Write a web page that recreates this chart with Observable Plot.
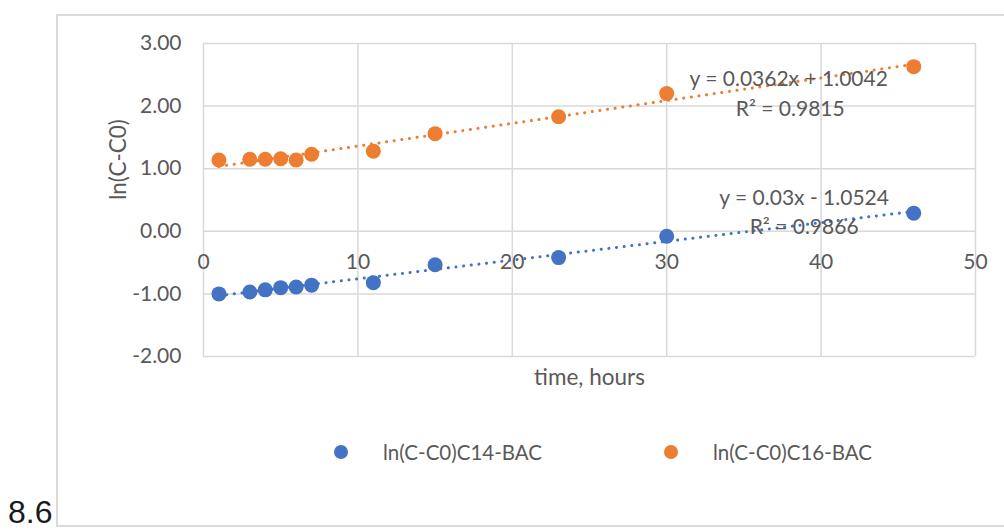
<!DOCTYPE html>
<html>
<head>
<meta charset="utf-8">
<script src="https://cdn.jsdelivr.net/npm/d3@7"></script>
<script src="https://cdn.jsdelivr.net/npm/@observablehq/plot@0.6"></script>
<style>
  html, body { margin: 0; padding: 0; background: #fff; }
  #wrap { position: relative; width: 1004px; height: 530px; overflow: hidden; font-family: Lato, "Open Sans", sans-serif; }
  #frame { position: absolute; left: 56px; top: 14px; width: 1000px; height: 513px; border: 2px solid #d9d9d9; box-sizing: border-box; }
  #chart { position: absolute; left: 0; top: 0; }
  .leg { position: absolute; top: 440px; height: 24px; display: flex; align-items: center; font-size: 20.5px; color: #595959; }
  .sw { width: 14px; height: 14px; border-radius: 50%; margin-right: 35px; }
  #num { position: absolute; left: 8px; top: 496px; font-family: "Liberation Sans", Arial, sans-serif; font-size: 32px; color: #1a1a1a; line-height: 1; }
</style>
</head>
<body>
<div id="wrap">
  <div id="frame"></div>
  <div id="chart"></div>
  <div class="leg" style="left:334px"><div class="sw" style="background:#4472C4"></div><span>ln(C-C0)C14-BAC</span></div>
  <div class="leg" style="left:664px"><div class="sw" style="background:#ED7D31"></div><span>ln(C-C0)C16-BAC</span></div>
  <div id="num">8.6</div>
</div>
<script>
// time, hours
const hours = [1, 3, 4, 5, 6, 7, 11, 15, 23, 30, 46];
// ln(C-C0) for C14-BAC
const c14 = [-1.00, -0.97, -0.935, -0.90, -0.89, -0.86, -0.82, -0.535, -0.42, -0.08, 0.29];
// ln(C-C0) for C16-BAC
const c16 = [1.14, 1.15, 1.15, 1.16, 1.14, 1.23, 1.28, 1.56, 1.83, 2.20, 2.63];
const seriesNames = ["ln(C-C0)C14-BAC", "ln(C-C0)C16-BAC"];
const seriesColors = ["#4472C4", "#ED7D31"];
const xTicks = [0, 10, 20, 30, 40, 50];
const yTicks = [-2, -1, 0, 1, 2, 3];
// trendline labels (as shown)
const eqLabels = ["y = 0.0362x + 1.0042", "R² = 0.9815", "y = 0.03x - 1.0524", "R² = 0.9866"];
const eqX = [37.9, 38.0, 38.9, 38.9];
const eqY = [2.425, 1.945, 0.525, 0.06];

const rows = [];
hours.forEach((h, i) => {
  rows.push({series: seriesNames[0], x: h, y: c14[i]});
  rows.push({series: seriesNames[1], x: h, y: c16[i]});
});
const labels = eqLabels.map((t, i) => ({t, x: eqX[i], y: eqY[i]}));

const textColor = "#595959";
const grid = "#d9d9d9";

const chart = Plot.plot({
  width: 1004,
  height: 420,
  marginLeft: 203,
  marginRight: 29,
  marginTop: 43,
  marginBottom: 64,
  style: {fontFamily: "Lato, 'Open Sans', sans-serif", fontSize: "21px", color: textColor, background: "transparent"},
  x: {domain: [0, 50], ticks: xTicks, axis: null},
  y: {domain: [-2, 3], ticks: yTicks, axis: null},
  color: {domain: seriesNames, range: seriesColors},
  marks: [
    Plot.ruleY(yTicks, {y: d => d, stroke: grid, strokeWidth: 1.5}),
    Plot.ruleX(xTicks, {x: d => d, stroke: grid, strokeWidth: 1.5}),
    Plot.text(yTicks, {y: d => d, frameAnchor: "left", dx: -22, textAnchor: "end", text: d => d.toFixed(2), fill: textColor, fontSize: 21}),
    Plot.text(xTicks, {x: d => d, y: 0, dy: 31, text: d => String(d), fill: textColor, fontSize: 21}),
    Plot.text(["ln(C-C0)"], {frameAnchor: "left", dx: -85, rotate: -90, fill: textColor, fontSize: 22.5}),
    Plot.text(["time, hours"], {frameAnchor: "bottom", dy: 28, fill: textColor, fontSize: 22.5}),
    Plot.dot(rows, {x: "x", y: "y", r: 7.5, fill: "series", stroke: null}),
    Plot.linearRegressionY(rows, {x: "x", y: "y", stroke: "series", ci: 0, strokeWidth: 3, strokeDasharray: "0.1 7.6", strokeLinecap: "round"}),
    Plot.text(labels, {x: "x", y: "y", text: "t", fill: textColor, fontSize: 21})
  ]
});
document.getElementById("chart").appendChild(chart);
</script>
</body>
</html>
